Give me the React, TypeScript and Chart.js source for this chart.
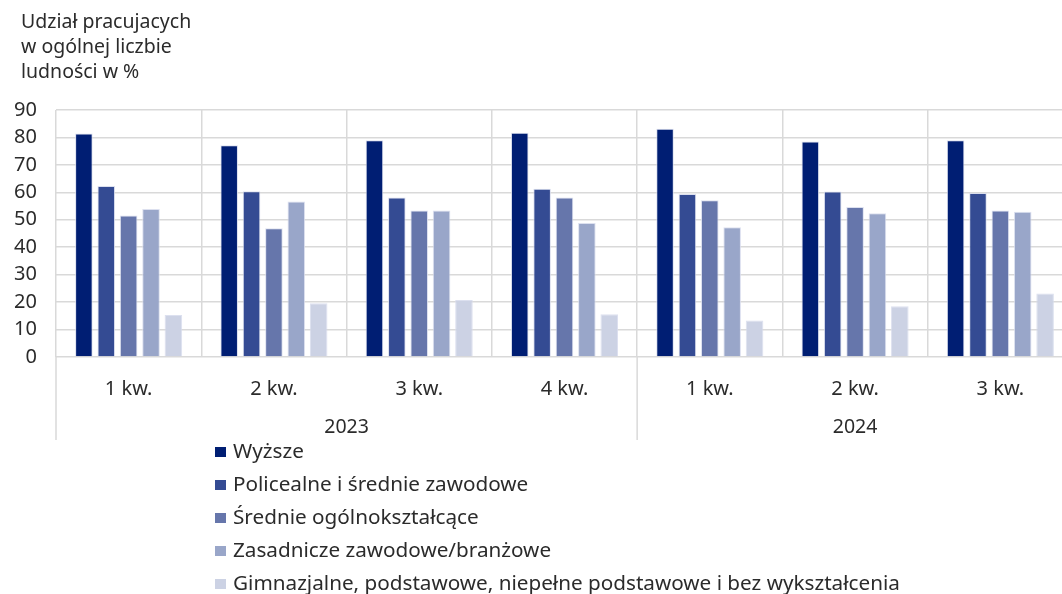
import React, { useEffect, useRef } from 'react';
import { Chart, registerables } from 'chart.js';

Chart.register(...registerables);

// ---- data ----
const quarterLabels = ['1 kw.', '2 kw.', '3 kw.', '4 kw.', '1 kw.', '2 kw.', '3 kw.'];
const yearLabels = ['2023', '2024'];
const yearQuarterCounts = [4, 3];
const titleLines = ['Udział pracujacych', 'w ogólnej liczbie', 'ludności w %'];
const seriesNames = [
  'Wyższe',
  'Policealne i średnie zawodowe',
  'Średnie ogólnokształcące',
  'Zasadnicze zawodowe/branżowe',
  'Gimnazjalne, podstawowe, niepełne podstawowe i bez wykształcenia',
];
const wyzsze = [81.4, 77.2, 79.0, 81.7, 83.2, 78.5, 79.0];
const policealne = [62.3, 60.4, 58.1, 61.3, 59.4, 60.3, 59.8];
const srednieOgolne = [51.6, 46.9, 53.4, 58.1, 57.1, 54.7, 53.4];
const zasadnicze = [53.9, 56.7, 53.4, 48.8, 47.3, 52.4, 52.9];
const gimnazjalne = [15.3, 19.6, 20.8, 15.6, 13.3, 18.5, 23.1];
const yMin = 0;
const yMax = 90;
const yStep = 10;

// ---- styles ----
const seriesColors = ['#001E73', '#344B93', '#6676AB', '#99A6C9', '#CCD2E4'];
const FONT = '"Noto Sans", "DejaVu Sans", sans-serif';
const TEXT = '#2B2B2B';
const GRID = '#D9D9D9';

// year centers / boundaries derived from counts
const yearStarts: number[] = [];
{
  let s = 0;
  for (const c of yearQuarterCounts) {
    yearStarts.push(s);
    s += c;
  }
}
const yearCenters = yearQuarterCounts.map((c, i) => yearStarts[i] + (c - 1) / 2);

const titleOffsetPlugin = {
  id: 'titleOffset',
  afterLayout(chart: any) {
    const t = chart.titleBlock;
    if (t) {
      t.left += 21;
    }
  },
};

const separatorPlugin = {
  id: 'yearSeparators',
  afterDraw(chart: any) {
    const x = chart.scales.x;
    const x2 = chart.scales.x2;
    const area = chart.chartArea;
    const ctx = chart.ctx;
    const half = (x.getPixelForValue(1) - x.getPixelForValue(0)) / 2;
    ctx.save();
    ctx.strokeStyle = GRID;
    ctx.lineWidth = 1.5;
    yearStarts.forEach((s) => {
      const px = x.getPixelForValue(s) - half;
      ctx.beginPath();
      ctx.moveTo(px, area.bottom);
      ctx.lineTo(px, x2.bottom);
      ctx.stroke();
    });
    ctx.restore();
  },
};

const columnLegendPlugin = {
  id: 'columnLegend',
  afterDraw(chart: any) {
    const ctx = chart.ctx;
    const top = chart.scales.x2.bottom + 12;
    const left = 215;
    const row = 33;
    ctx.save();
    ctx.font = `20.7px ${FONT}`;
    ctx.textBaseline = 'middle';
    ctx.textAlign = 'left';
    chart.data.datasets.forEach((ds: any, i: number) => {
      const y = top + i * row;
      ctx.fillStyle = ds.backgroundColor;
      ctx.fillRect(left, y - 5, 11, 10);
      ctx.fillStyle = TEXT;
      ctx.fillText(ds.label, left + 18, y);
    });
    ctx.restore();
  },
};

export default function App() {
  const canvasRef = useRef<HTMLCanvasElement | null>(null);

  useEffect(() => {
    if (!canvasRef.current) return;
    const values = [wyzsze, policealne, srednieOgolne, zasadnicze, gimnazjalne];
    const chart = new Chart(canvasRef.current, {
      type: 'bar',
      data: {
        labels: quarterLabels,
        datasets: values.map((v, i) => ({
          label: seriesNames[i],
          data: v,
          backgroundColor: seriesColors[i],
          borderColor: 'rgba(214,219,236,0.85)',
          borderWidth: 1,
          categoryPercentage: 0.77,
          barPercentage: 0.785,
          xAxisID: 'x',
          yAxisID: 'y',
        })),
      },
      options: {
        responsive: false,
        animation: false,
        devicePixelRatio: 1,
        layout: { padding: { left: 0, right: 3, top: 0, bottom: 154 } },
        plugins: {
          legend: { display: false },
          tooltip: { enabled: false },
          title: {
            display: true,
            text: titleLines,
            align: 'start',
            color: TEXT,
            font: { family: FONT, size: 19.5, weight: 'normal', lineHeight: 25 / 19.5 },
            padding: { top: 10, bottom: 25 },
          },
        },
        scales: {
          x: {
            type: 'category',
            position: 'bottom',
            weight: 1,
            offset: true,
            grid: { color: GRID, lineWidth: 1.5, offset: true, drawTicks: false },
            border: { display: false },
            ticks: {
              color: TEXT,
              font: { family: FONT, size: 20 },
              padding: 20,
              maxRotation: 0,
              autoSkip: false,
            },
            afterFit: (s: any) => {
              s.height = 50;
            },
          },
          x2: {
            type: 'linear',
            position: 'bottom',
            weight: 2,
            offset: false,
            bounds: 'data',
            min: -0.5,
            max: quarterLabels.length - 0.5,
            grid: { display: false, drawTicks: false, offset: false },
            border: { display: false },
            afterBuildTicks: (s: any) => {
              s.ticks = yearCenters.map((v) => ({ value: v }));
            },
            ticks: {
              color: TEXT,
              font: { family: FONT, size: 19.5 },
              padding: 9,
              maxRotation: 0,
              autoSkip: false,
              callback: (v: any) => {
                const idx = yearCenters.indexOf(Number(v));
                return idx >= 0 ? yearLabels[idx] : '';
              },
            },
            afterFit: (s: any) => {
              s.height = 33;
            },
          },
          y: {
            min: yMin,
            max: yMax,
            ticks: {
              stepSize: yStep,
              color: TEXT,
              font: { family: FONT, size: 20 },
              padding: 19,
            },
            grid: { color: GRID, lineWidth: 1.5, drawTicks: false },
            border: { display: false },
            afterFit: (s: any) => {
              s.width = 56;
            },
          },
        },
      },
      plugins: [titleOffsetPlugin, separatorPlugin, columnLegendPlugin],
    });
    return () => chart.destroy();
  }, []);

  return (
    <div
      style={{
        position: 'absolute',
        left: 0,
        top: 0,
        width: 1062,
        height: 594,
        overflow: 'hidden',
        background: '#ffffff',
      }}
    >
      <canvas ref={canvasRef} width={1076} height={594} style={{ display: 'block' }} />
    </div>
  );
}
